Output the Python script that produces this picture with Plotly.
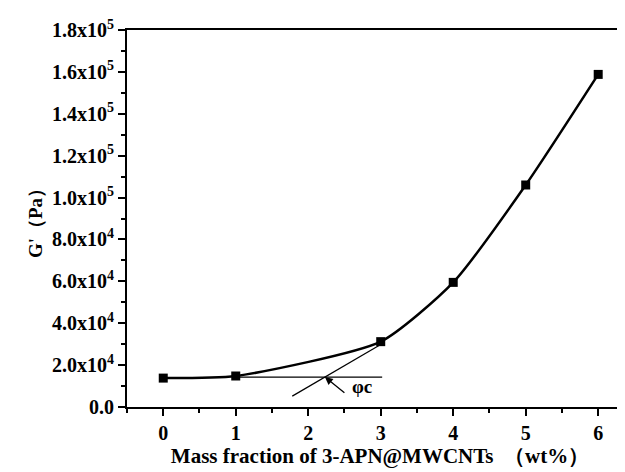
import plotly.graph_objects as go

mass_fraction = [0, 1, 3, 4, 5, 6]
g_prime = [13800, 14800, 31200, 59500, 106000, 158800]

# tangent construction lines
plateau_x = [1, 3.02]
plateau_y = [14300, 14300]
slope_x = [1.78, 3.0]
slope_y = [5200, 29800]

ytick_vals = [0, 20000, 40000, 60000, 80000, 100000, 120000, 140000, 160000, 180000]
ytick_text = ["<b>0.0</b>", "<b>2.0x10<sup>4</sup></b>", "<b>4.0x10<sup>4</sup></b>",
              "<b>6.0x10<sup>4</sup></b>", "<b>8.0x10<sup>4</sup></b>",
              "<b>1.0x10<sup>5</sup></b>", "<b>1.2x10<sup>5</sup></b>",
              "<b>1.4x10<sup>5</sup></b>", "<b>1.6x10<sup>5</sup></b>",
              "<b>1.8x10<sup>5</sup></b>"]
xtick_vals = [0, 1, 2, 3, 4, 5, 6]
xtick_text = ["<b>0</b>", "<b>1</b>", "<b>2</b>", "<b>3</b>", "<b>4</b>", "<b>5</b>", "<b>6</b>"]

font_family = "Liberation Serif"

fig = go.Figure()
fig.add_trace(go.Scatter(x=plateau_x, y=plateau_y, mode="lines",
                         line=dict(color="black", width=1.2), showlegend=False))
fig.add_trace(go.Scatter(x=slope_x, y=slope_y, mode="lines",
                         line=dict(color="black", width=1.2), showlegend=False))
fig.add_trace(go.Scatter(x=mass_fraction, y=g_prime, mode="lines+markers",
                         line=dict(color="black", width=2.5, shape="spline", smoothing=0.6),
                         marker=dict(symbol="square", size=9, color="black"),
                         showlegend=False))

fig.add_annotation(x=2.23, y=14300, ax=21, ay=17,
                   xref="x", yref="y", showarrow=True, arrowhead=2, arrowsize=1.2,
                   arrowwidth=1.3, arrowcolor="black", text="")
fig.add_annotation(x=2.74, y=10000, xref="x", yref="y", text="<b>φc</b>",
                   showarrow=False, font=dict(family=font_family, size=19, color="black"))

fig.update_layout(
    width=625, height=472,
    margin=dict(l=119, r=0, t=22, b=73),
    paper_bgcolor="white", plot_bgcolor="white",
    font=dict(family=font_family, color="black"),
    xaxis=dict(range=[-0.5, 6.48], tickvals=xtick_vals, ticktext=xtick_text,
               ticks="outside", ticklen=7,
               tickwidth=2, tickcolor="black", showline=True, linecolor="black",
               linewidth=2, mirror=True, showgrid=False, zeroline=False,
               tickfont=dict(family=font_family, size=20, color="black"),
               minor=dict(tickvals=[-0.5, 0.5, 1.5, 2.5, 3.5, 4.5, 5.5], ticks="outside",
                          ticklen=4, tickwidth=2, tickcolor="black"),
               title=dict(text="<b>Mass fraction of 3-APN@MWCNTs  （wt%）</b>",
                          font=dict(family=font_family, size=21, color="black"),
                          standoff=5)),
    yaxis=dict(range=[0, 180000], tickvals=ytick_vals, ticktext=ytick_text,
               ticks="outside", ticklen=7, tickwidth=2, tickcolor="black",
               showline=True, linecolor="black", linewidth=2, showgrid=False,
               zeroline=False,
               tickfont=dict(family=font_family, size=20, color="black"),
               minor=dict(tickvals=[10000, 30000, 50000, 70000, 90000, 110000, 130000,
                                    150000, 170000],
                          ticks="outside", ticklen=4, tickwidth=2, tickcolor="black"),
               title=dict(text="<b>G'（Pa）</b>",
                          font=dict(family=font_family, size=19, color="black"),
                          standoff=4)),
)

fig.write_html("out.html")
